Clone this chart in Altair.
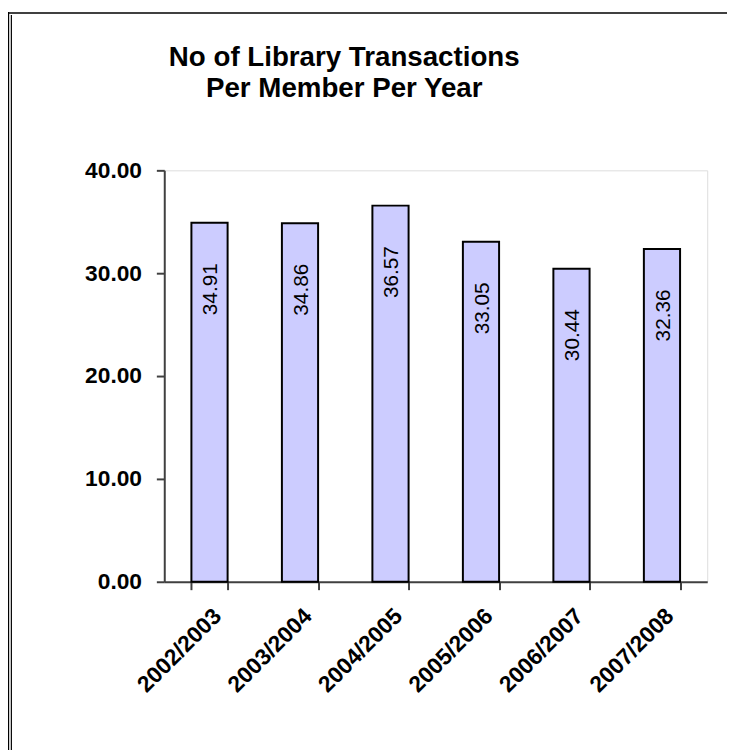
import altair as alt
import pandas as pd

years = ["2002/2003", "2003/2004", "2004/2005", "2005/2006", "2006/2007", "2007/2008"]
values = [34.91, 34.86, 36.57, 33.05, 30.44, 32.36]
title_lines = ["No of Library Transactions", "Per Member Per Year"]

df = pd.DataFrame({"year": years, "value": values})
df["label"] = df["value"].map(lambda v: f"{v:.2f}")

FONT = "Liberation Sans"

base = alt.Chart(df)

bars = base.mark_bar(fill="#CCCCFF", stroke="#000000", strokeWidth=2).encode(
    x=alt.X(
        "year:N",
        sort=years,
        title=None,
        scale=alt.Scale(paddingInner=0.6, paddingOuter=0.3),
        axis=alt.Axis(
            labelAngle=-45,
            labelFont=FONT,
            labelFontSize=23,
            labelFontWeight="bold",
            labelColor="#000000",
            tickBand="extent",
            tickSize=8,
            tickWidth=2,
            tickColor="#404040",
            domainColor="#404040",
            domainWidth=2,
            labelPadding=15,
        ),
    ),
    y=alt.Y(
        "value:Q",
        title=None,
        scale=alt.Scale(domain=[0, 40], nice=False),
        axis=alt.Axis(
            values=[0, 10, 20, 30, 40],
            format=".2f",
            grid=False,
            labelFont=FONT,
            labelFontSize=23,
            labelFontWeight="bold",
            labelColor="#000000",
            tickSize=8,
            tickWidth=2,
            tickColor="#404040",
            domainColor="#404040",
            domainWidth=2,
            labelPadding=15,
        ),
    ),
)

labels = base.mark_text(
    angle=270,
    align="right",
    baseline="middle",
    dx=-41,
    dy=2,
    font=FONT,
    fontSize=21,
    color="#000000",
).encode(
    x=alt.X("year:N", sort=years),
    y="value:Q",
    text="label:N",
)

one = alt.Data(values=[{}])
title_text = alt.Chart(one).mark_text(
    font=FONT,
    fontSize=28,
    fontWeight="bold",
    color="#000000",
    align="center",
    baseline="alphabetic",
    lineHeight=31,
).encode(
    x=alt.value(182),
    y=alt.value(-105),
    text=alt.value(title_lines),
)
frame_top = alt.Chart(one).mark_rule(color="#000000", strokeWidth=1.5).encode(
    x=alt.value(-158), x2=alt.value(569), y=alt.value(-159.2)
)
frame_left1 = alt.Chart(one).mark_rule(color="#000000", strokeWidth=1.2).encode(
    x=alt.value(-157.4), y=alt.value(-160), y2=alt.value(586)
)
frame_left2 = alt.Chart(one).mark_rule(color="#000000", strokeWidth=1.2).encode(
    x=alt.value(-154.6), y=alt.value(-157), y2=alt.value(586)
)

chart = (
    alt.layer(bars, labels, title_text, frame_top, frame_left1, frame_left2)
    .properties(
        width=549,
        height=416,
        autosize=alt.AutoSizeParams(type="none"),
        padding={"left": 158, "top": 160, "right": 20, "bottom": 170},
    )
    .configure_view(stroke="#808080", strokeWidth=2)
    .configure(background="#ffffff")
)

chart.save("out.html", embed_options={"renderer": "svg", "actions": False})
